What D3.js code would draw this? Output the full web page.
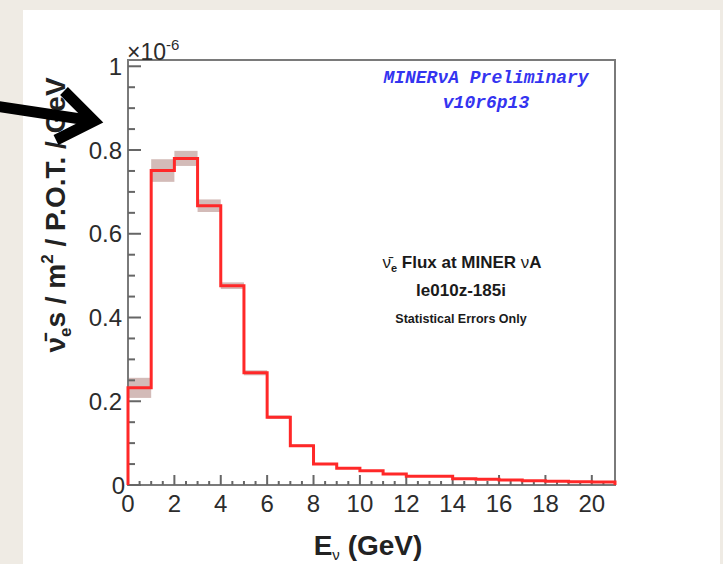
<!DOCTYPE html>
<html>
<head>
<meta charset="utf-8">
<script src="https://cdn.jsdelivr.net/npm/d3@7"></script>
<style>
  html, body { margin: 0; padding: 0; background: #efebe4; }
  svg { display: block; }
</style>
</head>
<body>
<svg id="chart" width="723" height="564"></svg>
<script>
// ---- data (flux in units of 1e-6, 1 GeV bins starting at 0) ----
const binLow = [0,1,2,3,4,5,6,7,8,9,10,11,12,13,14,15,16,17,18,19,20];
const flux = [0.232,0.751,0.780,0.667,0.476,0.268,0.162,0.094,0.050,0.040,0.034,0.026,0.021,0.021,0.015,0.014,0.012,0.010,0.009,0.008,0.007];
const fluxErr = [0.024,0.027,0.018,0.015,0.008,0.006,0.004,0.003,0.002,0.002,0.002,0.001,0.001,0.001,0.001,0.001,0.001,0.001,0.001,0.001,0.001];
const xTicks = [0,2,4,6,8,10,12,14,16,18,20];
const yTicks = [0,0.2,0.4,0.6,0.8,1];
const yTickLabels = ["0","0.2","0.4","0.6","0.8","1"];

const svg = d3.select("#chart");
const W = 723, H = 564;

// background panel
svg.append("rect").attr("x",0).attr("y",0).attr("width",W).attr("height",H).attr("fill","#efebe4");
svg.append("rect").attr("x",23).attr("y",10).attr("width",697).attr("height",H-10).attr("fill","#ffffff");

const L = 128, R = 615, T = 60, B = 485;
const x = d3.scaleLinear().domain([0,21]).range([L,R]);
const y = d3.scaleLinear().domain([0,1.015]).range([B,T]);

// error bands
svg.append("g").selectAll("rect").data(binLow).join("rect")
  .attr("x", d => x(d))
  .attr("width", d => x(d+1) - x(d))
  .attr("y", (d,i) => y(flux[i] + fluxErr[i]))
  .attr("height", (d,i) => y(flux[i] - fluxErr[i]) - y(flux[i] + fluxErr[i]))
  .attr("fill", "#b58d88").attr("opacity", 0.6);

// frame
svg.append("rect").attr("x",L).attr("y",T).attr("width",R-L).attr("height",B-T)
  .attr("fill","none").attr("stroke","#7a7a7a").attr("stroke-width",2);

// minor/major ticks
const yMinor = d3.range(0, 1.0001, 0.05);
svg.append("g").selectAll("line").data(yMinor).join("line")
  .attr("x1", L).attr("x2", (d,i) => L + (i % 4 === 0 ? 13 : 7))
  .attr("y1", d => y(d)).attr("y2", d => y(d))
  .attr("stroke","#666").attr("stroke-width",2);
const xMinor = d3.range(0, 21.0001, 0.5);
svg.append("g").selectAll("line").data(xMinor).join("line")
  .attr("x1", d => x(d)).attr("x2", d => x(d))
  .attr("y1", B).attr("y2", (d,i) => B - (i % 4 === 0 ? 10 : 4))
  .attr("stroke","#666").attr("stroke-width",2);

// histogram line
const pts = [[0,0]];
binLow.forEach((d,i) => { pts.push([d, flux[i]]); pts.push([d+1, flux[i]]); });
pts.push([21,0]);
const line = d3.line().x(d => x(d[0])).y(d => y(d[1]));
svg.append("path").attr("d", line(pts)).attr("fill","none")
  .attr("stroke","#ff2828").attr("stroke-width",3).attr("stroke-linejoin","miter");

// tick labels
const tickFont = "'Liberation Sans', Arial, sans-serif";
svg.append("g").selectAll("text").data(yTicks).join("text")
  .attr("x", (d,i) => i === 0 ? 125 : 122)
  .attr("y", d => y(d)).attr("dy","0.36em")
  .attr("text-anchor","end")
  .attr("font-family", tickFont).attr("font-size", 24).attr("fill","#2c2c2c")
  .text((d,i) => yTickLabels[i]);
svg.append("g").selectAll("text").data(xTicks).join("text")
  .attr("x", d => x(d)).attr("y", 512)
  .attr("text-anchor","middle")
  .attr("font-family", tickFont).attr("font-size", 24).attr("fill","#2c2c2c")
  .text(d => d);

// exponent label
const ex = svg.append("text").attr("x",127).attr("y",60)
  .attr("font-family", tickFont).attr("font-size",23).attr("fill","#2c2c2c");
ex.append("tspan").text("\u00d710");
ex.append("tspan").attr("dy",-10).attr("font-size",15).text("-6");

// axis titles
const yt = svg.append("text").attr("transform","translate(65,215) rotate(-90)")
  .attr("text-anchor","middle").attr("font-family", tickFont).attr("font-weight","bold")
  .attr("font-size",28).attr("fill","#222");
yt.append("tspan").text("\u03bd\u0304");
yt.append("tspan").attr("font-size",17).attr("dy",6).text("e");
yt.append("tspan").attr("dy",-6).text("s / m");
yt.append("tspan").attr("font-size",17).attr("dy",-12).text("2");
yt.append("tspan").attr("dy",12).text(" / P.O.T. / GeV");

const xt = svg.append("text").attr("x",368).attr("y",555)
  .attr("text-anchor","middle").attr("font-family", tickFont).attr("font-weight","bold")
  .attr("font-size",28).attr("fill","#222");
xt.append("tspan").text("E");
xt.append("tspan").attr("font-size",15).attr("dy",5).attr("font-weight","normal").text("\u03bd");
xt.append("tspan").attr("dy",-5).text(" (GeV)");

// MINERvA Preliminary label
const mono = "'Liberation Mono', 'DejaVu Sans Mono', monospace";
svg.append("text").attr("x",486).attr("y",83).attr("text-anchor","middle")
  .attr("font-family",mono).attr("font-weight","bold").attr("font-style","italic")
  .attr("font-size",18).attr("fill","#3434f0").text("MINER\u03bdA Preliminary");
svg.append("text").attr("x",486).attr("y",108).attr("text-anchor","middle")
  .attr("font-family",mono).attr("font-weight","bold").attr("font-style","italic")
  .attr("font-size",18).attr("fill","#3434f0").text("v10r6p13");

// center annotation
const t1 = svg.append("text").attr("x",462).attr("y",268).attr("text-anchor","middle")
  .attr("font-family",tickFont).attr("font-weight","bold").attr("font-size",17).attr("fill","#1a1a1a");
t1.append("tspan").attr("font-weight","normal").text("\u03bd\u0304");
t1.append("tspan").attr("font-size",11).attr("dy",4).text("e");
t1.append("tspan").attr("dy",-4).text(" Flux at MINER ");
t1.append("tspan").attr("font-weight","normal").text("\u03bd");
t1.append("tspan").text("A");
svg.append("text").attr("x",461).attr("y",296).attr("text-anchor","middle")
  .attr("font-family",tickFont).attr("font-weight","bold").attr("font-size",17).attr("fill","#1a1a1a")
  .text("le010z-185i");
svg.append("text").attr("x",461).attr("y",323).attr("text-anchor","middle")
  .attr("font-family",tickFont).attr("font-weight","bold").attr("font-size",12.5).attr("fill","#1a1a1a")
  .text("Statistical Errors Only");

// annotation arrow
svg.append("path").attr("d","M-5,106 L94,121").attr("stroke","#000").attr("stroke-width",11).attr("fill","none");
svg.append("path").attr("d","M64,91 L94,121 L56,140").attr("stroke","#000").attr("stroke-width",11)
  .attr("fill","none").attr("stroke-linejoin","miter").attr("stroke-miterlimit",10);
</script>
</body>
</html>
